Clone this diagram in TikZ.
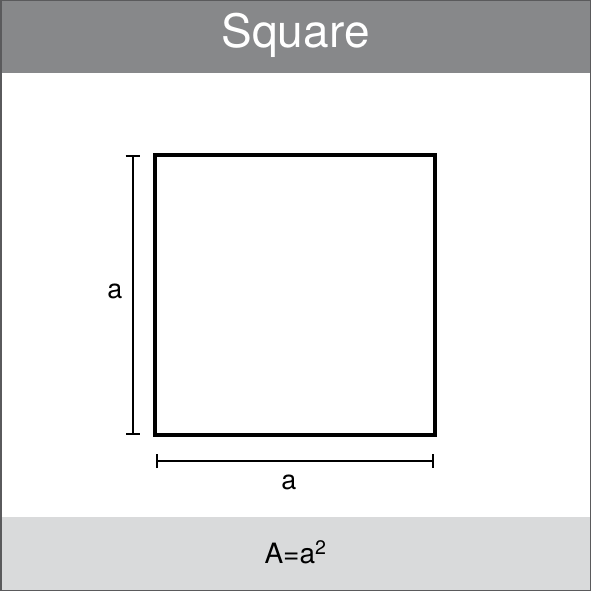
\documentclass[tikz,border=0pt]{standalone}
\usepackage{fontspec}
\setmainfont{TeX Gyre Heros}
\usetikzlibrary{arrows.meta}
\definecolor{headgray}{HTML}{87888A}
\definecolor{footgray}{HTML}{D9DADB}
\definecolor{framegray}{HTML}{5A5A5C}
\begin{document}
\begin{tikzpicture}[x=1pt,y=-1pt]
    \tikzstyle{every node}+=[inner sep=0pt]
    \tikzstyle{dimline}=[black, line width=2pt, {Bar[width=14pt,line width=2pt]}-{Bar[width=14pt,line width=2pt]}]
    \tikzstyle{dimlabel}=[font=\fontsize{27}{30}\selectfont]
    \useasboundingbox (0,0) rectangle (591,591);
    % bands
    \fill [white] (0,0) rectangle (591,591);
    \fill [headgray] (0,0) rectangle (591,73);
    \fill [footgray] (0,517) rectangle (591,591);
    \draw [framegray, line width=1.5pt] (0.75,0.75) rectangle (590.25,590.25);
    \node (title) at (295.5,35) [white, font=\fontsize{46}{50}\selectfont] {Square};
    \node (area) at (295.5,552) [font=\fontsize{28}{30}\selectfont] {A=a\textsuperscript{2}};
    % the square
    \coordinate (tl) at (155,155);
    \coordinate (br) at (435,435);
    \draw [black, line width=4.5pt] (tl) rectangle (br);
    % dimensions
    \coordinate (vtop) at (132.5,155);
    \coordinate (vbot) at (132.5,434.5);
    \coordinate (hleft) at (155.5,461);
    \coordinate (hright) at (434,461);
    \draw [dimline] (vtop) -- (vbot);
    \draw [dimline] (hleft) -- (hright);
    \node (side) at (115,291) [dimlabel] {a};
    \node (base) at (289,482) [dimlabel] {a};
\end{tikzpicture}
\end{document}
